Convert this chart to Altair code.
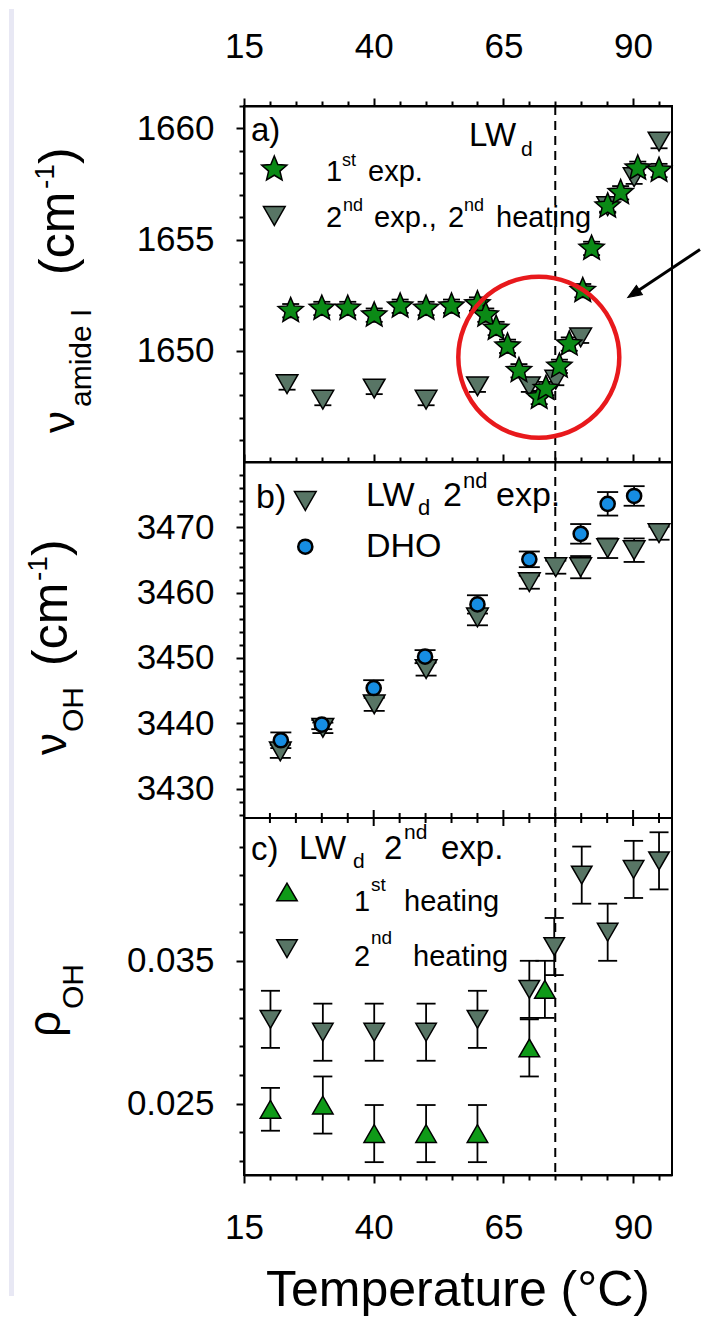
import math
import altair as alt
import pandas as pd

FONT = "Liberation Sans"

# ---------------- axis ticks / labels ----------------
x_tick_values = [15, 20, 25, 30, 35, 40, 45, 50, 55, 60, 65, 70, 75, 80, 85, 90, 95]
x_tick_labels = [15, 40, 65, 90]
transition_T = 75

a_y_ticks = [1646, 1647, 1648, 1649, 1650, 1651, 1652, 1653, 1654, 1655, 1656, 1657, 1658, 1659, 1660, 1661]
a_y_labels = [1650, 1655, 1660]
b_y_ticks = list(range(3426, 3479, 2))
b_y_labels = [3430, 3440, 3450, 3460, 3470]
c_y_ticks = [0.021, 0.023, 0.025, 0.027, 0.029, 0.031, 0.033, 0.035, 0.037, 0.039, 0.041, 0.043]
c_y_labels = [0.025, 0.035]

# ---------------- panel a: amide I ----------------
a_star_T = [24.0, 30.0, 35.0, 40.1, 45.1, 50.1, 55.0, 60.0, 61.6, 63.6, 65.8, 68.0, 71.9, 73.2, 75.8, 77.7, 80.3, 82.0, 85.1, 87.6, 90.9, 95.0]
a_star_v = [1651.8, 1651.9, 1651.9, 1651.6, 1652.0, 1651.9, 1652.0, 1652.1, 1651.6, 1651.0, 1650.2, 1649.1, 1647.9, 1648.3, 1649.3, 1650.3, 1652.7, 1654.6, 1656.5, 1657.1, 1658.2, 1658.1]
a_star_e = [0.3, 0.3, 0.3, 0.3, 0.3, 0.3, 0.3, 0.3, 0.3, 0.3, 0.3, 0.3, 0.3, 0.3, 0.3, 0.3, 0.3, 0.3, 0.3, 0.3, 0.3, 0.3]

a_tri_T = [23.3, 30.2, 40.1, 50.1, 60.0, 70.0, 75.1, 79.9, 85.1, 90.2, 95.0]
a_tri_v = [1648.5, 1647.8, 1648.3, 1647.8, 1648.4, 1648.4, 1648.7, 1650.6, 1656.5, 1657.8, 1659.4]
a_tri_e = [0.25, 0.25, 0.25, 0.25, 0.25, 0.25, 0.25, 0.25, 0.25, 0.3, 0.3]

# ---------------- panel b: OH stretching ----------------
b_tri_T = [22.0, 30.2, 40.1, 50.1, 60.0, 70.0, 75.1, 79.9, 85.1, 90.2, 95.0]
b_tri_v = [3435.7, 3439.3, 3442.9, 3448.3, 3456.2, 3461.6, 3463.9, 3463.9, 3466.8, 3466.5, 3469.1]
b_tri_e = [1.0, 0.8, 1.0, 1.0, 1.2, 1.0, 1.0, 1.7, 1.5, 1.8, 1.0]

b_dho_T = [22.1, 30.0, 40.0, 49.9, 60.0, 70.0, 79.9, 85.1, 90.2]
b_dho_v = [3437.4, 3439.8, 3445.4, 3450.2, 3458.2, 3465.1, 3469.0, 3473.6, 3474.8]
b_dho_e = [1.2, 0.7, 1.2, 1.0, 1.4, 1.2, 1.5, 1.8, 1.5]

# ---------------- panel c: rho OH ----------------
c_h1_T = [20.1, 30.2, 40.1, 50.1, 60.0, 70.0, 73.0]
c_h1_v = [0.0246, 0.0249, 0.0229, 0.0229, 0.0229, 0.0289, 0.0330]
c_h1_e = [0.0015, 0.002, 0.002, 0.002, 0.002, 0.002, 0.002]

c_h2_T = [20.1, 30.2, 40.1, 50.1, 60.0, 70.0, 74.8, 80.1, 85.1, 90.1, 95.0]
c_h2_v = [0.0309, 0.0300, 0.0300, 0.0300, 0.0309, 0.0330, 0.0360, 0.0410, 0.0370, 0.0414, 0.0420]
c_h2_e = [0.002, 0.002, 0.002, 0.002, 0.002, 0.002, 0.002, 0.002, 0.002, 0.002, 0.002]

# ---------------- styles ----------------
W = 428
H_A, H_B, H_C = 356, 356, 357
STAR_GREEN = "#0b8a16"
UP_GREEN = "#0f9a18"
TRI_GRAY = "#587565"
DHO_BLUE = "#168de2"
RED = "#e8191c"


def star_path(inner=0.45):
    pts = []
    for k in range(10):
        r = 1.0 if k % 2 == 0 else inner
        a = math.radians(-90 + 36 * k)
        pts.append((r * math.cos(a), r * math.sin(a)))
    return "M" + "L".join(f"{x:.4f},{y:.4f}" for x, y in pts) + "Z"


STAR = star_path()
ONE = pd.DataFrame({"k": [0]})
XS = alt.Scale(domain=[15, 97.5], nice=False, zero=False)


def lab_test(vals):
    arr = "[" + ",".join(str(v) for v in vals) + "]"
    return f"indexof({arr}, datum.value) >= 0"


def make_x_axis(orient, show_labels, pad=0):
    t = lab_test(x_tick_labels)
    kw = dict(orient=orient, values=x_tick_values, title=None, labelOverlap=False,
              labelFlush=False, grid=False,
              tickSize={"condition": {"test": t, "value": 8}, "value": 5})
    if show_labels:
        kw.update(labelExpr=f"{t} ? datum.label : ''", labelPadding=pad)
    else:
        kw.update(labels=False)
    return alt.Axis(**kw)


def make_y_axis(vals, labels, fmt):
    t = lab_test(labels)
    return alt.Axis(orient="left", values=vals, format=fmt, title=None,
                    labelExpr=f"{t} ? datum.label : ''", labelOverlap=False,
                    labelFlush=False, labelPadding=22, grid=False,
                    tickSize={"condition": {"test": t, "value": 8}, "value": 5})


def series(T, v, e, shape, fill, size, cap, X, ys, yax, sw=1.5):
    df = pd.DataFrame({"T": T, "v": v, "e": e})
    base = alt.Chart(df).transform_calculate(lo="datum.v - datum.e", hi="datum.v + datum.e")
    bars = base.mark_rule(color="black", strokeWidth=1.8).encode(
        x=X, y=alt.Y("lo:Q", scale=ys, axis=yax), y2="hi:Q")
    cap_lo = base.mark_point(shape="stroke", size=cap * cap, color="black", strokeWidth=1.8,
                             filled=False, opacity=1).encode(x=X, y=alt.Y("lo:Q", scale=ys, axis=yax))
    cap_hi = base.mark_point(shape="stroke", size=cap * cap, color="black", strokeWidth=1.8,
                             filled=False, opacity=1).encode(x=X, y=alt.Y("hi:Q", scale=ys, axis=yax))
    pts = alt.Chart(df).mark_point(shape=shape, size=size, filled=True, fill=fill, color=fill,
                                   stroke="black", strokeWidth=sw, opacity=1).encode(
        x=X, y=alt.Y("v:Q", scale=ys, axis=yax))
    return [bars, cap_lo, cap_hi], pts


def txt(s, x, y, size, angle=0, align="left"):
    return alt.Chart(ONE).mark_text(text=s, font=FONT, fontSize=size, align=align,
                                    baseline="alphabetic", angle=angle, color="black").encode(
        x=alt.value(x), y=alt.value(y))


def sym(shape, x, y, size, fill, sw=1.5):
    return alt.Chart(ONE).mark_point(shape=shape, size=size, filled=True, fill=fill, color=fill,
                                     stroke="black", strokeWidth=sw, opacity=1).encode(
        x=alt.value(x), y=alt.value(y))


def dashed(axis):
    return alt.Chart(ONE).mark_rule(strokeDash=[9, 6], strokeWidth=2, color="black").encode(
        x=alt.X(datum=transition_T, type="quantitative", scale=XS, axis=axis))


# ================= panel a =================
ax_a = make_x_axis("top", True, 34)
X_a = alt.X("T:Q", scale=XS, axis=ax_a)
YS_a = alt.Scale(domain=[1645, 1661], nice=False, zero=False)
yax_a = make_y_axis(a_y_ticks, a_y_labels, "d")
tri_a_err, tri_a_pts = series(a_tri_T, a_tri_v, a_tri_e, "triangle-down", TRI_GRAY, 470, 17, X_a, YS_a, yax_a)
star_a_err, star_a_pts = series(a_star_T, a_star_v, a_star_e, STAR, STAR_GREEN, 700, 17, X_a, YS_a, yax_a)

strip = alt.Chart(ONE).mark_rect(color="#e8e8f4").encode(
    x=alt.value(-235), x2=alt.value(-230), y=alt.value(-97), y2=alt.value(1190))
top_guard = alt.Chart(ONE).mark_rule(opacity=0, strokeWidth=1).encode(
    x=alt.value(0), x2=alt.value(10), y=alt.value(-96.5), y2=alt.value(-96.5))
red_circle = alt.Chart(ONE).mark_point(shape="circle", size=161 * 161, filled=False, color=RED,
                                       stroke=RED, strokeWidth=4.5, opacity=1).encode(
    x=alt.value(294.8), y=alt.value(251.2))
arrow_line = alt.Chart(ONE).mark_rule(color="black", strokeWidth=3).encode(
    x=alt.value(456), y=alt.value(143.5), x2=alt.value(388), y2=alt.value(188.8))
arrow_head = alt.Chart(ONE).mark_point(shape="M0,0L0.55,1.4L-0.55,1.4Z", size=400, filled=True,
                                       fill="black", color="black", stroke="black", strokeWidth=1,
                                       opacity=1, angle=236.8).encode(
    x=alt.value(383.7), y=alt.value(191.6))

a_text = [
    txt("a)", 7, 35, 33),
    txt("LW", 225, 40, 33), txt("d", 277, 50, 21),
    txt("1", 82, 75, 29), txt("st", 98, 60, 18), txt("exp.", 124, 75, 29),
    txt("2", 82, 121, 29), txt("nd", 99, 105, 18), txt("exp.,", 130, 121, 29),
    txt("2", 204, 121, 29), txt("nd", 220, 105, 18), txt("heating", 252, 121, 29),
    # y title
    txt("ν", -170, 327, 44, angle=270), txt("amide I", -153, 301, 30, angle=270),
    txt("(cm", -170, 169, 50, angle=270), txt("-1", -190, 83, 28, angle=270),
    txt(")", -170, 58, 50, angle=270),
]
a_sym = [sym(STAR, 30.3, 63.3, 700, STAR_GREEN), sym("triangle-down", 30.3, 110, 470, TRI_GRAY)]

panel_a = alt.layer(
    strip, top_guard, dashed(ax_a), *tri_a_err, *star_a_err, tri_a_pts, star_a_pts,
    red_circle, arrow_line, arrow_head, *a_text, *a_sym
).properties(width=W, height=H_A)

# ================= panel b =================
ax_b = make_x_axis("top", False)
X_b = alt.X("T:Q", scale=XS, axis=ax_b)
YS_b = alt.Scale(domain=[3425.5, 3480], nice=False, zero=False)
yax_b = make_y_axis(b_y_ticks, b_y_labels, "d")
tri_b_err, tri_b_pts = series(b_tri_T, b_tri_v, b_tri_e, "triangle-down", TRI_GRAY, 470, 21, X_b, YS_b, yax_b)
dho_b_err, dho_b_pts = series(b_dho_T, b_dho_v, b_dho_e, "circle", DHO_BLUE, 200, 21, X_b, YS_b, yax_b, sw=2.5)

b_text = [
    txt("b)", 12, 46, 34),
    txt("LW", 122, 44, 34), txt("d", 174, 53, 22), txt("2", 199, 44, 34),
    txt("nd", 219, 26, 22), txt("exp.", 252, 44, 34),
    txt("DHO", 122, 95, 34),
    txt("ν", -178, 293, 44, angle=270), txt("OH", -161, 270, 30, angle=270),
    txt("(cm", -177, 204, 50, angle=270), txt("-1", -197, 119, 28, angle=270),
    txt(")", -177, 94, 50, angle=270),
]
b_sym = [sym("triangle-down", 61.3, 39, 470, TRI_GRAY), sym("circle", 61.3, 84.7, 200, DHO_BLUE, sw=2.5)]

panel_b = alt.layer(
    dashed(ax_b), *tri_b_err, *dho_b_err, tri_b_pts, dho_b_pts, *b_text, *b_sym
).properties(width=W, height=H_B)

# ================= panel c =================
ax_c = make_x_axis("bottom", True, 27)
X_c = alt.X("T:Q", scale=XS, axis=ax_c)
YS_c = alt.Scale(domain=[0.020, 0.045], nice=False, zero=False)
yax_c = make_y_axis(c_y_ticks, c_y_labels, ".3f")
h2_err, h2_pts = series(c_h2_T, c_h2_v, c_h2_e, "triangle-down", TRI_GRAY, 420, 19, X_c, YS_c, yax_c)
h1_err, h1_pts = series(c_h1_T, c_h1_v, c_h1_e, "triangle-up", UP_GREEN, 420, 19, X_c, YS_c, yax_c)

tick_df = pd.DataFrame({"T": x_tick_values,
                        "major": [t in x_tick_labels for t in x_tick_values]})
top_minor = alt.Chart(tick_df).transform_filter("!datum.major").mark_rule(
    color="black", strokeWidth=2).encode(x=X_c, y=alt.value(-5), y2=alt.value(5))
top_major = alt.Chart(tick_df).transform_filter("datum.major").mark_rule(
    color="black", strokeWidth=2).encode(x=X_c, y=alt.value(-8), y2=alt.value(8))

c_text = [
    txt("c)", 7, 42, 33),
    txt("LW", 55, 41, 33), txt("d", 109, 50, 21), txt("2", 140, 41, 33),
    txt("nd", 160, 21, 21), txt("exp.", 197, 41, 33),
    txt("1", 110, 93, 29), txt("st", 127, 73, 19), txt("heating", 160, 93, 29),
    txt("2", 110, 148, 29), txt("nd", 127, 126, 19), txt("heating", 169, 148, 29),
    txt("ρ", -184, 219, 46, angle=270), txt("OH", -161, 191, 30, angle=270),
    txt("Temperature (°C)", 214, 488, 50, align="center"),
]
c_sym = [sym("triangle-up", 43, 74, 420, UP_GREEN), sym("triangle-down", 43, 130.7, 420, TRI_GRAY)]

panel_c = alt.layer(
    top_minor, top_major, dashed(ax_c), *h2_err, *h1_err, h2_pts, h1_pts, *c_text, *c_sym
).properties(width=W, height=H_C)

chart = alt.vconcat(panel_a, panel_b, panel_c, spacing=0, bounds="flush").properties(
    padding=0, background="white"
).configure_view(stroke="black", strokeWidth=2).configure_axis(
    domainColor="black", domainWidth=2, tickColor="black", tickWidth=2,
    labelFont=FONT, labelFontSize=35, labelColor="black", grid=False
)

chart.save("out.html", embed_options={"renderer": "svg", "actions": False})
